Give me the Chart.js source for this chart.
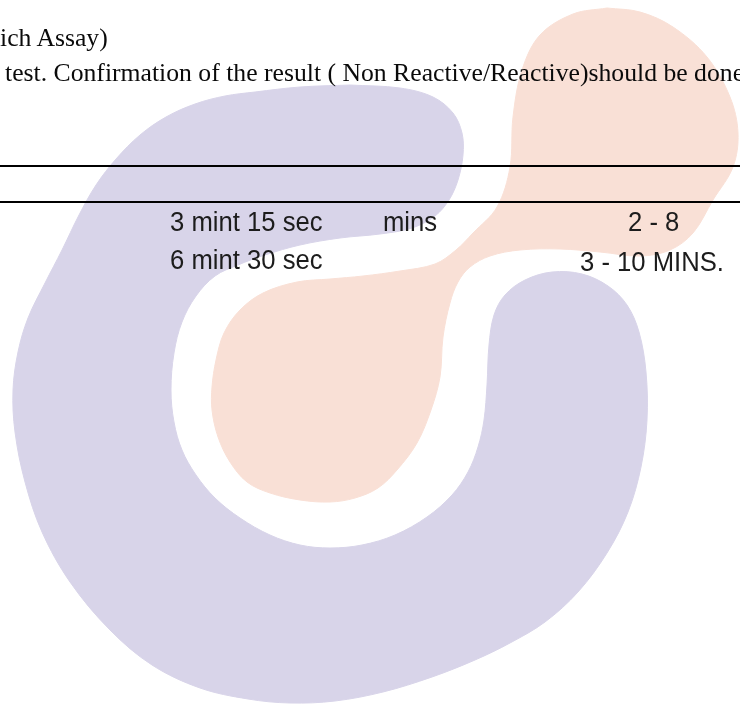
<!DOCTYPE html>
<html>
<head>
<meta charset="utf-8">
<script src="https://cdn.jsdelivr.net/npm/chart.js@4.4.1/dist/chart.umd.min.js"></script>
<style>
    body { margin: 0; background: #fff; overflow: hidden; }
    #wrap { position: relative; width: 740px; height: 708px; overflow: hidden; }
    #myChart { position: absolute; left: 0; top: 0; }
    .txt { position: absolute; white-space: nowrap; color: #0a0a0a; }
    .serif { font-family: "Liberation Serif", "Times New Roman", serif; font-size: 25.7px; line-height: 26px; }
    .narrow { font-family: "Liberation Sans", Arial, sans-serif; font-size: 27px; line-height: 27px; color: #1c1c1c;
              transform: scaleX(0.95); transform-origin: left top; }
</style>
</head>
<body>
<div id="wrap">
    <canvas id="myChart" width="740" height="708"></canvas>
</div>
<script>
// Texte
const headerLines = ["ich Assay)", "test. Confirmation of the result ( Non Reactive/Reactive)should be done"];
const rowTimes = ["3 mint 15 sec", "6 mint 30 sec"];
const rowUnits = ["mins", ""];
const rowRanges = ["2 - 8", "3 - 10 MINS."];

// Tabellenlinien (y)
const ruleY = [166, 202];

// Wasserzeichen-Umrisse [x, y]
const lavenderOutline = [
    [350,85],[400,88],[433,97],[453,113],[462,133],[463,155],[458,180],[449,200],[435,216],[412,228],
    [380,234],[340,238],[300,245],[265,255],[238,265],[215,276],[196,296],[182,322],[174,353],[171,390],
    [174,422],[182,450],[196,475],[215,498],[240,518],[270,535],[300,545],[330,548],[362,545],[395,535],
    [427,517],[452,495],[468,472],[478,447],[484,420],[487,385],[489,345],[494,315],[505,295],[525,280],
    [552,272],[582,274],[608,286],[627,305],[639,332],[646,372],[647,420],[641,467],[628,512],[607,553],
    [578,592],[545,622],[510,643],[475,660],[432,677],[383,692],[335,701],[290,703],[248,699],[200,688],
    [152,665],[110,630],[70,582],[42,532],[25,482],[15,432],[13,390],[18,352],[28,318],[45,283],
    [62,250],[79,215],[96,185],[116,159],[140,135],[166,117],[195,104],[225,96],[255,92],[300,87],[350,85]
];
const peachOutline = [
    [607,8],[640,12],[673,27],[707,57],[730,97],[738,133],[733,167],[713,200],[693,233],[670,250],
    [640,256],[600,252],[560,249],[520,250],[490,256],[470,267],[458,282],[450,303],[443,337],[440,377],
    [431,410],[417,443],[397,470],[378,488],[355,498],[330,502],[300,500],[270,493],[247,482],[230,462],
    [218,437],[212,410],[212,387],[216,360],[224,333],[240,310],[263,293],[297,282],[330,279],[363,276],
    [400,271],[435,264],[456,250],[473,233],[497,207],[510,167],[513,117],[522,70],[540,35],[573,14],[607,8]
];

const toPoints = arr => arr.map(p => ({ x: p[0], y: p[1] }));

const shapeSet = (outline, color) => ({
    data: toPoints(outline),
    showLine: true,
    fill: 'shape',
    tension: 0.35,
    borderWidth: 1,
    borderColor: color,
    backgroundColor: color,
    pointRadius: 0
});

const ruleSets = ruleY.map(y => ({
    data: [{ x: 0, y: y }, { x: 740, y: y }],
    showLine: true,
    fill: false,
    borderWidth: 2.2,
    borderColor: "#000",
    pointRadius: 0
}));

const ctx = document.getElementById("myChart").getContext("2d");

new Chart(ctx, {
    type: 'scatter',
    data: {
        datasets: [
            ...ruleSets,
            shapeSet(peachOutline, "rgb(249,224,214)"),
            shapeSet(lavenderOutline, "rgb(216,212,233)")
        ]
    },
    options: {
        responsive: false,
        animation: false,
        layout: { padding: 0 },
        scales: {
            x: { type: 'linear', min: 0, max: 740, display: false },
            y: { type: 'linear', min: 0, max: 708, reverse: true, display: false }
        },
        plugins: {
            legend: { display: false },
            tooltip: { enabled: false }
        }
    }
});

// Text nach Grundlinie platzieren
const wrap = document.getElementById("wrap");
function addText(str, cls, left, baseline, offset) {
    if (!str) return;
    const el = document.createElement("div");
    el.className = "txt " + cls;
    el.textContent = str;
    el.style.left = left + "px";
    el.style.top = (baseline - offset) + "px";
    wrap.appendChild(el);
}
addText(headerLines[0], "serif", 0, 47, 21.6);
addText(headerLines[1], "serif", 5, 82, 21.6);
const rowBase = [232, 270];
rowTimes.forEach((t, i) => addText(t, "narrow", 170, rowBase[i], 22.9));
rowUnits.forEach((t, i) => addText(t, "narrow", 383, rowBase[i], 22.9));
addText(rowRanges[0], "narrow", 628, rowBase[0], 22.9);
addText(rowRanges[1], "narrow", 580, rowBase[1] + 2, 22.9);
</script>
</body>
</html>
